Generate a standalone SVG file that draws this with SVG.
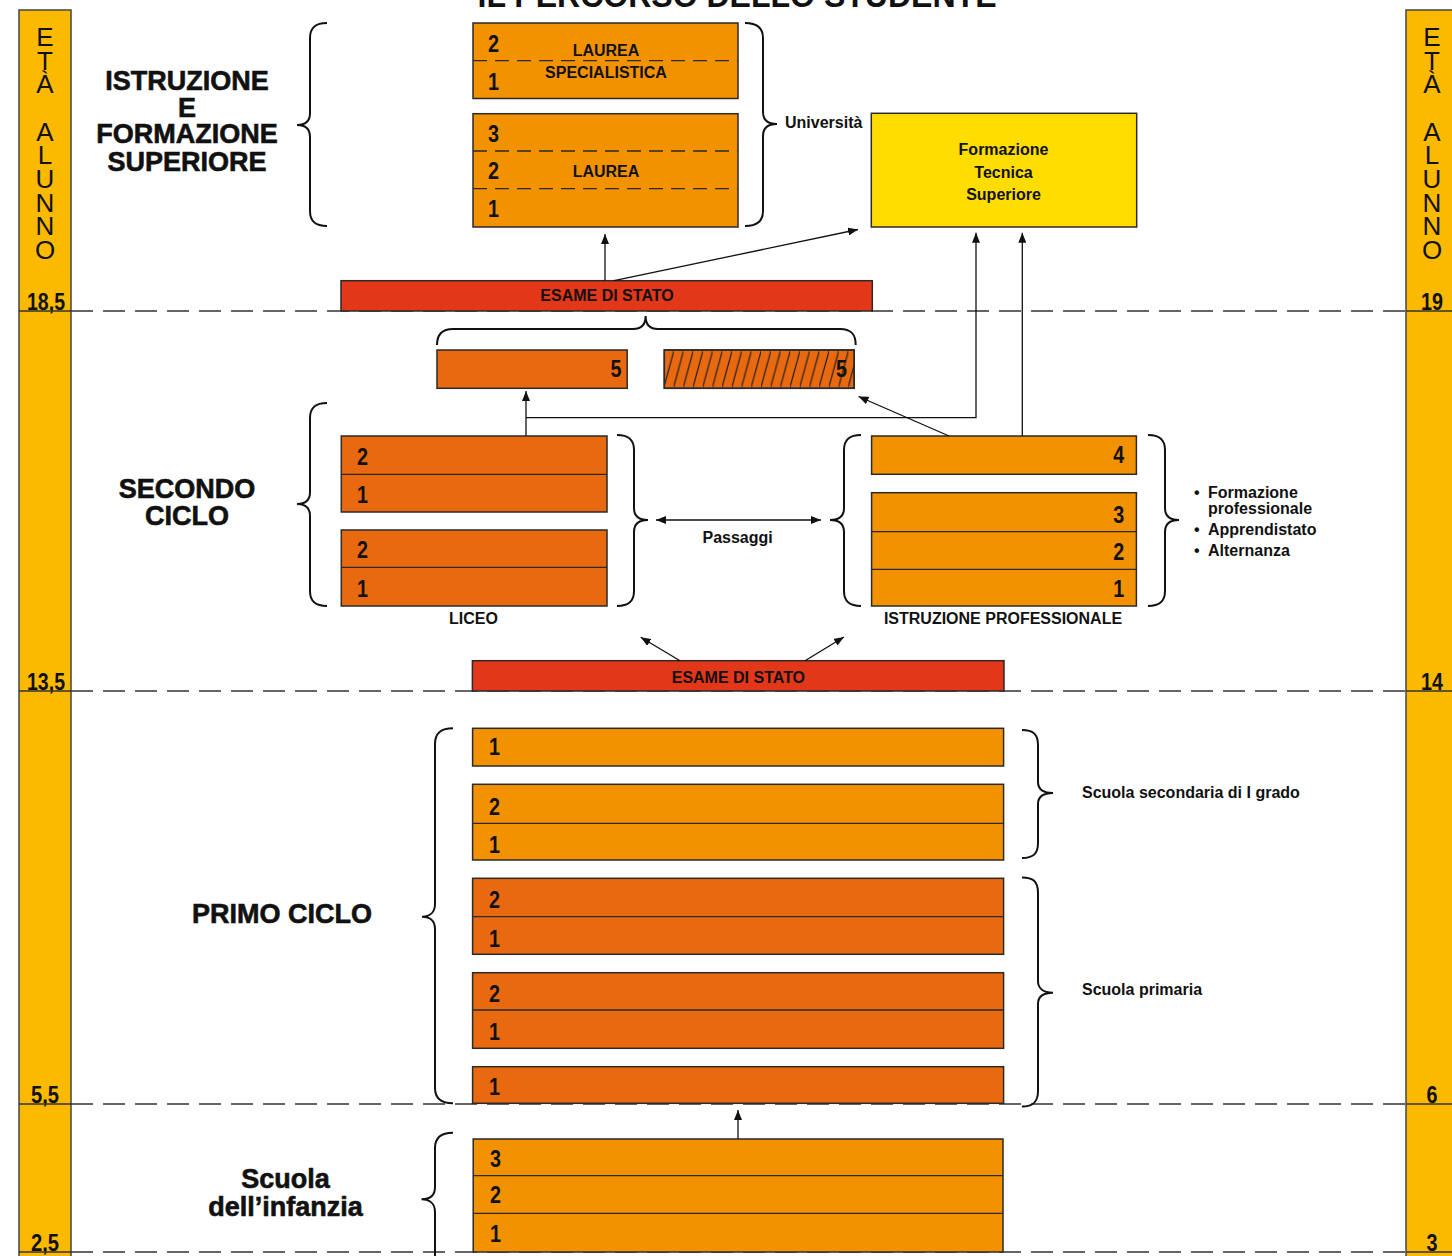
<svg xmlns="http://www.w3.org/2000/svg" width="1452" height="1256" viewBox="0 0 1452 1256">
<defs>
<style>
text{font-family:"Liberation Sans",Arial,sans-serif;fill:#111;}
.b{font-weight:bold;}
.lbl{font-size:16px;font-weight:bold;}
.head{font-size:27px;font-weight:bold;text-anchor:middle;stroke:#111;stroke-width:0.6;}
.num{font-size:24px;font-weight:bold;}
.age{font-size:24px;font-weight:bold;text-anchor:middle;}
.vert{font-size:26px;writing-mode:vertical-rl;text-orientation:upright;}
.mid{text-anchor:middle;}
.end{text-anchor:end;}
.bx{stroke:#2a2a2a;stroke-width:1.5;}
.lo{fill:#F39200;}
.do{fill:#E8690F;}
.red{fill:#E3371A;}
.yel{fill:#FFDD00;}
.bar{fill:#FBBA00;stroke:#444;stroke-width:1.5;}
.div{stroke:#2a2a2a;stroke-width:1.3;fill:none;}
.dd{stroke:#2a2a2a;stroke-width:1.3;stroke-dasharray:14 8;fill:none;}
.brace{fill:none;stroke:#111;stroke-width:2;}
.conn{fill:none;stroke:#111;stroke-width:1.3;}
.ageline{stroke:#333;stroke-width:1.5;stroke-dasharray:22 10;fill:none;}
.agesolid{stroke:#333;stroke-width:1.5;fill:none;}
</style>
<marker id="ah" markerUnits="userSpaceOnUse" markerWidth="10" markerHeight="8" refX="10" refY="4" orient="auto-start-reverse" viewBox="0 0 10 8">
<path d="M0,0 L10,4 L0,8 z" fill="#111"/>
</marker>
<pattern id="hatch" patternUnits="userSpaceOnUse" x="664" y="350" width="9.7" height="38.3">
<path d="M-0.5,38.8 L10.2,-0.5" stroke="#222" stroke-width="1.2"/>
</pattern>
</defs>

<rect width="1452" height="1256" fill="#fff"/>

<g id="title">
<text class="b mid" x="737" y="7" font-size="34" textLength="519" lengthAdjust="spacingAndGlyphs">IL PERCORSO DELLO STUDENTE</text>
</g>

<g id="age-bar-left">
<rect class="bar" x="19" y="10" width="52" height="1270"/>
<text class="vert" x="45" y="22" textLength="243" lengthAdjust="spacing">ETÀ ALUNNO</text>
<text class="age" x="46" y="310" textLength="38" lengthAdjust="spacingAndGlyphs">18,5</text>
<text class="age" x="46" y="690" textLength="38" lengthAdjust="spacingAndGlyphs">13,5</text>
<text class="age" x="45" y="1103" textLength="28" lengthAdjust="spacingAndGlyphs">5,5</text>
<text class="age" x="45" y="1251" textLength="28" lengthAdjust="spacingAndGlyphs">2,5</text>
</g>

<g id="age-bar-right">
<rect class="bar" x="1406" y="10" width="52" height="1270"/>
<text class="vert" x="1432" y="22" textLength="243" lengthAdjust="spacing">ETÀ ALUNNO</text>
<text class="age" x="1432" y="310" textLength="22" lengthAdjust="spacingAndGlyphs">19</text>
<text class="age" x="1432" y="690" textLength="22" lengthAdjust="spacingAndGlyphs">14</text>
<text class="age" x="1432" y="1103" textLength="11" lengthAdjust="spacingAndGlyphs">6</text>
<text class="age" x="1432" y="1251" textLength="11" lengthAdjust="spacingAndGlyphs">3</text>
</g>

<g id="age-lines">
<path class="ageline" d="M71,311 H1406 M71,691 H1406 M71,1104 H1406 M71,1252 H1406"/>
<path class="agesolid" d="M19,311 H71 M19,691 H71 M19,1104 H71 M19,1252 H71 M1406,311 H1452 M1406,691 H1452 M1406,1104 H1452 M1406,1252 H1452"/>
</g>

<g id="heading-istruzione">
<text class="head" x="187" y="90">ISTRUZIONE</text>
<text class="head" x="187" y="116.5">E</text>
<text class="head" x="187" y="143.3">FORMAZIONE</text>
<text class="head" x="187" y="170.5">SUPERIORE</text>
</g>
<g id="brace-istruzione">
<path class="brace" d="M327,23 C316,23 310,27 310,38 L310,113 C310,121 305,125 297,125 C305,125 310,129 310,137 L310,211 C310,222 316,226 327,226"/>
</g>

<g id="box-laurea-specialistica">
<rect class="bx lo" x="473" y="23" width="265" height="75.5"/>
<path class="dd" d="M473,60.7 H738"/>
<text class="num" x="488" y="52" textLength="11" lengthAdjust="spacingAndGlyphs">2</text>
<text class="num" x="488" y="90" textLength="11" lengthAdjust="spacingAndGlyphs">1</text>
<text class="lbl mid" x="606" y="56">LAUREA</text>
<text class="lbl mid" x="606" y="78">SPECIALISTICA</text>
</g>

<g id="box-laurea">
<rect class="bx lo" x="473" y="113.7" width="265" height="113.3"/>
<path class="dd" d="M473,151 H738 M473,188.7 H738"/>
<text class="num" x="488" y="141.7" textLength="11" lengthAdjust="spacingAndGlyphs">3</text>
<text class="num" x="488" y="179" textLength="11" lengthAdjust="spacingAndGlyphs">2</text>
<text class="num" x="488" y="216.5" textLength="11" lengthAdjust="spacingAndGlyphs">1</text>
<text class="lbl mid" x="606" y="176.7">LAUREA</text>
</g>

<g id="brace-universita">
<path class="brace" d="M745,23 C756,23 763,27 763,38 L763,112 C763,120 768,124 777,124 C768,124 763,128 763,136 L763,211 C763,222 756,226 745,226"/>
<text class="lbl" x="785" y="128.2">Università</text>
</g>

<g id="box-fts">
<rect class="bx yel" x="871.3" y="113.3" width="265.4" height="113.7"/>
<text class="lbl mid" x="1003.5" y="155">Formazione</text>
<text class="lbl mid" x="1003.5" y="178">Tecnica</text>
<text class="lbl mid" x="1003.5" y="200">Superiore</text>
</g>

<g id="esame-stato-1">
<rect class="bx red" x="341" y="280.7" width="531.3" height="30.3"/>
<text class="lbl mid" x="607" y="301">ESAME DI STATO</text>
</g>

<g id="brace-quinto-anno">
<path class="brace" d="M437,345 C437,334 442,329 453,329 L633,329 C641,329 645.6,325 645.6,316 C645.6,325 650,329 658,329 L840,329 C851,329 855.7,334 855.7,345"/>
</g>

<g id="box-liceo-5">
<rect class="bx do" x="437" y="350" width="190.2" height="38.3"/>
<text class="num end" x="621.5" y="377" textLength="11" lengthAdjust="spacingAndGlyphs">5</text>
</g>

<g id="box-prof-5">
<rect class="bx do" x="664.3" y="350" width="189.9" height="38.3"/>
<rect x="664.3" y="350" width="189.9" height="38.3" fill="url(#hatch)"/>
<rect x="664.3" y="350" width="189.9" height="38.3" fill="none" class="bx"/>
<text class="num end" x="847" y="377" textLength="11" lengthAdjust="spacingAndGlyphs">5</text>
</g>

<g id="heading-secondo">
<text class="head" x="187" y="498.3">SECONDO</text>
<text class="head" x="187" y="525">CICLO</text>
</g>
<g id="brace-secondo">
<path class="brace" d="M327,403 C316,403 310,407 310,418 L310,492 C310,500 305,504 297,504 C305,504 310,508 310,516 L310,591 C310,602 316,606 327,606"/>
</g>

<g id="box-liceo">
<rect class="bx do" x="341.3" y="436" width="265.7" height="76"/>
<path class="div" d="M341.3,474.3 H607"/>
<rect class="bx do" x="341.3" y="530" width="265.7" height="76"/>
<path class="div" d="M341.3,567.3 H607"/>
<text class="num" x="357" y="465" textLength="11" lengthAdjust="spacingAndGlyphs">2</text>
<text class="num" x="357" y="503" textLength="11" lengthAdjust="spacingAndGlyphs">1</text>
<text class="num" x="357" y="558.3" textLength="11" lengthAdjust="spacingAndGlyphs">2</text>
<text class="num" x="357" y="596.7" textLength="11" lengthAdjust="spacingAndGlyphs">1</text>
<text class="lbl mid" x="473.5" y="624">LICEO</text>
</g>

<g id="brace-liceo">
<path class="brace" d="M617,435 C628,435 634,439 634,450 L634,508 C634,516 639,520 648,520 C639,520 634,524 634,532 L634,591 C634,602 628,606 617,606"/>
</g>

<g id="label-passaggi">
<text class="lbl mid" x="737.6" y="543">Passaggi</text>
</g>

<g id="brace-prof-left">
<path class="brace" d="M861,435 C850,435 844,439 844,450 L844,508 C844,516 839,520 830,520 C839,520 844,524 844,532 L844,591 C844,602 850,606 861,606"/>
</g>

<g id="box-istruzione-professionale">
<rect class="bx lo" x="871.6" y="436" width="264.8" height="38.3"/>
<rect class="bx lo" x="871.6" y="492.7" width="264.8" height="113.3"/>
<path class="div" d="M871.6,531.7 H1136.4 M871.6,569.3 H1136.4"/>
<text class="num end" x="1124.3" y="463.3" textLength="11" lengthAdjust="spacingAndGlyphs">4</text>
<text class="num end" x="1124.3" y="523.3" textLength="11" lengthAdjust="spacingAndGlyphs">3</text>
<text class="num end" x="1124.3" y="560" textLength="11" lengthAdjust="spacingAndGlyphs">2</text>
<text class="num end" x="1124.3" y="596.7" textLength="11" lengthAdjust="spacingAndGlyphs">1</text>
<text class="lbl mid" x="1003" y="624">ISTRUZIONE PROFESSIONALE</text>
</g>

<g id="brace-prof-right">
<path class="brace" d="M1148,435 C1159,435 1165,439 1165,450 L1165,508 C1165,516 1170,520 1179,520 C1170,520 1165,524 1165,532 L1165,591 C1165,602 1159,606 1148,606"/>
</g>

<g id="list-percorsi">
<text class="lbl" x="1194" y="498">•</text>
<text class="lbl" x="1208" y="498">Formazione</text>
<text class="lbl" x="1208" y="514">professionale</text>
<text class="lbl" x="1194" y="535">•</text>
<text class="lbl" x="1208" y="535">Apprendistato</text>
<text class="lbl" x="1194" y="556">•</text>
<text class="lbl" x="1208" y="556">Alternanza</text>
</g>

<g id="esame-stato-2">
<rect class="bx red" x="472.4" y="660.7" width="531.6" height="30.3"/>
<text class="lbl mid" x="738.4" y="683">ESAME DI STATO</text>
</g>

<g id="heading-primo">
<text class="head" x="282" y="923">PRIMO CICLO</text>
</g>
<g id="brace-primo">
<path class="brace" d="M453,728.3 C442,728.3 435,732 435,744 L435,904 C435,912 430,916.7 422,916.7 C430,916.7 435,921 435,929 L435,1088 C435,1099 442,1103.3 453,1103.3"/>
</g>

<g id="box-secondaria">
<rect class="bx lo" x="472.6" y="728.3" width="531" height="37.7"/>
<rect class="bx lo" x="472.6" y="784.3" width="531" height="75.7"/>
<path class="div" d="M472.6,823.3 H1003.6"/>
<text class="num" x="489" y="755" textLength="11" lengthAdjust="spacingAndGlyphs">1</text>
<text class="num" x="489" y="815" textLength="11" lengthAdjust="spacingAndGlyphs">2</text>
<text class="num" x="489" y="852.7" textLength="11" lengthAdjust="spacingAndGlyphs">1</text>
</g>
<g id="brace-secondaria">
<path class="brace" d="M1022,730 C1033,730 1038,734 1038,745 L1038,782 C1038,789 1043,793 1053,793 C1043,793 1038,797 1038,804 L1038,843 C1038,854 1033,858 1022,858"/>
<text class="lbl" x="1082" y="798">Scuola secondaria di I grado</text>
</g>

<g id="box-primaria">
<rect class="bx do" x="472.6" y="878.3" width="531" height="76"/>
<path class="div" d="M472.6,916.7 H1003.6"/>
<rect class="bx do" x="472.6" y="972.7" width="531" height="75.6"/>
<path class="div" d="M472.6,1010 H1003.6"/>
<rect class="bx do" x="472.6" y="1066.7" width="531" height="36.6"/>
<text class="num" x="489" y="908" textLength="11" lengthAdjust="spacingAndGlyphs">2</text>
<text class="num" x="489" y="946.7" textLength="11" lengthAdjust="spacingAndGlyphs">1</text>
<text class="num" x="489" y="1001.7" textLength="11" lengthAdjust="spacingAndGlyphs">2</text>
<text class="num" x="489" y="1040" textLength="11" lengthAdjust="spacingAndGlyphs">1</text>
<text class="num" x="489" y="1095" textLength="11" lengthAdjust="spacingAndGlyphs">1</text>
</g>
<g id="brace-primaria">
<path class="brace" d="M1022,877.4 C1033,877.4 1038,881 1038,893 L1038,981 C1038,988 1043,992.7 1053,992.7 C1043,992.7 1038,997 1038,1004 L1038,1091 C1038,1102 1033,1106.6 1022,1106.6"/>
<text class="lbl" x="1082" y="995">Scuola primaria</text>
</g>

<g id="heading-infanzia">
<text class="head" x="285.5" y="1188" font-size="26">Scuola</text>
<text class="head" x="285.5" y="1216" font-size="26">dell’infanzia</text>
</g>
<g id="brace-infanzia">
<path class="brace" d="M453,1132.7 C442,1132.7 435,1137 435,1148 L435,1187 C435,1195 430,1199.3 421.5,1199.3 C430,1199.3 435,1204 435,1212 L435,1262"/>
</g>

<g id="box-infanzia">
<rect class="bx lo" x="473.2" y="1139" width="529.8" height="113"/>
<path class="div" d="M473.2,1175.7 H1003 M473.2,1213.3 H1003"/>
<text class="num" x="490" y="1166.7" textLength="11" lengthAdjust="spacingAndGlyphs">3</text>
<text class="num" x="490" y="1203.3" textLength="11" lengthAdjust="spacingAndGlyphs">2</text>
<text class="num" x="490" y="1241.7" textLength="11" lengthAdjust="spacingAndGlyphs">1</text>
</g>

<g id="connectors">
<path class="conn" marker-end="url(#ah)" d="M605,280.7 L605,234"/>
<path class="conn" marker-end="url(#ah)" d="M614,280.7 L858,229.5"/>
<path class="conn" marker-end="url(#ah)" d="M526,436 L526,391"/>
<path class="conn" marker-end="url(#ah)" d="M526,417.7 L976,417.7 L976,232.7"/>
<path class="conn" marker-end="url(#ah)" d="M1022.3,436 L1022.3,232.7"/>
<path class="conn" marker-end="url(#ah)" d="M949,436 L858.5,396.5"/>
<path class="conn" marker-start="url(#ah)" marker-end="url(#ah)" d="M656,520 L821,520"/>
<path class="conn" marker-end="url(#ah)" d="M680,660.7 L640.7,637.3"/>
<path class="conn" marker-end="url(#ah)" d="M805,660.7 L844,637"/>
<path class="conn" marker-end="url(#ah)" d="M738,1139 L738,1110"/>
</g>
</svg>
